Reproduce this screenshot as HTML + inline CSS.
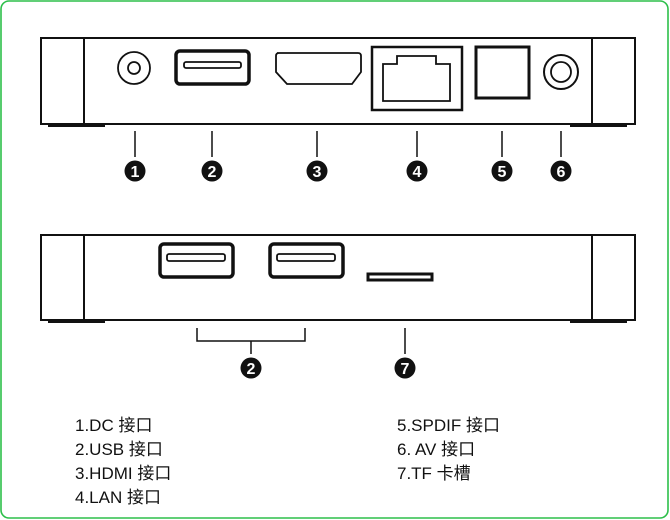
<!DOCTYPE html>
<html><head><meta charset="utf-8"><style>
html,body{margin:0;padding:0;background:#fff;width:670px;height:520px;overflow:hidden}
svg{display:block}
text.n{font-family:"Liberation Sans",sans-serif;font-weight:bold;font-size:16px;fill:#fff;text-anchor:middle}
text.t{font-family:"Liberation Sans","Noto Sans CJK SC",sans-serif;font-size:17px;fill:#111}
</style></head><body>
<svg width="670" height="520" viewBox="0 0 670 520" xmlns="http://www.w3.org/2000/svg">
<rect x="1" y="1" width="667" height="517" rx="8" fill="#fff" stroke="#2dbf4a" stroke-width="1.6"/>
<g fill="none" stroke="#111" stroke-width="2">
<rect x="41" y="38" width="594" height="86"/>
<line x1="84" y1="38" x2="84" y2="124"/>
<line x1="592" y1="38" x2="592" y2="124"/>
<line x1="48" y1="126" x2="105" y2="126"/>
<line x1="570" y1="126" x2="627" y2="126"/>
<circle cx="134" cy="68" r="16" stroke-width="1.8"/>
<circle cx="134" cy="68" r="6" stroke-width="1.8"/>
<rect x="176" y="51" width="73" height="33" rx="4" stroke-width="3.5"/>
<rect x="184" y="62" width="57" height="6" rx="2" stroke-width="1.8"/>
<path d="M277 53 H358 Q361 53 361 56 V72 L352 84 H287 L276 72 V56 Q276 53 279 53 Z" stroke-width="1.8"/>
<rect x="372" y="47" width="90" height="63" stroke-width="2.5"/>
<path d="M383 101 V64 H397 V56 H436 V64 H450 V101 Z" stroke-width="1.8"/>
<rect x="476" y="47" width="53" height="51" stroke-width="3"/>
<circle cx="561" cy="72" r="17" stroke-width="2"/>
<circle cx="561" cy="72" r="10" stroke-width="1.8"/>
<g stroke-width="1.5">
<line x1="135" y1="131" x2="135" y2="157"/>
<line x1="212" y1="131" x2="212" y2="157"/>
<line x1="317" y1="131" x2="317" y2="157"/>
<line x1="417" y1="131" x2="417" y2="157"/>
<line x1="502" y1="131" x2="502" y2="157"/>
<line x1="561" y1="131" x2="561" y2="157"/>
</g>
<rect x="41" y="235" width="594" height="85"/>
<line x1="84" y1="235" x2="84" y2="320"/>
<line x1="592" y1="235" x2="592" y2="320"/>
<line x1="48" y1="322" x2="105" y2="322"/>
<line x1="570" y1="322" x2="627" y2="322"/>
<rect x="160" y="244" width="73" height="33" rx="4" stroke-width="3.5"/>
<rect x="167" y="254" width="58" height="7" rx="2" stroke-width="1.8"/>
<rect x="270" y="244" width="73" height="33" rx="4" stroke-width="3.5"/>
<rect x="277" y="254" width="58" height="7" rx="2" stroke-width="1.8"/>
<rect x="368" y="274" width="64" height="6" stroke-width="3"/>
<path d="M197 328 V341 H305 V328 M251 341 V354" stroke-width="1.5"/>
<line x1="405" y1="328" x2="405" y2="354" stroke-width="1.5"/>
</g>
<g fill="#111">
<circle cx="135" cy="171" r="10.5"/><circle cx="212" cy="171" r="10.5"/><circle cx="317" cy="171" r="10.5"/>
<circle cx="417" cy="171" r="10.5"/><circle cx="502" cy="171" r="10.5"/><circle cx="561" cy="171" r="10.5"/>
<circle cx="251" cy="368" r="10.5"/><circle cx="405" cy="368" r="10.5"/>
</g>
<text class="n" x="135" y="177">1</text><text class="n" x="212" y="177">2</text><text class="n" x="317" y="177">3</text>
<text class="n" x="417" y="177">4</text><text class="n" x="502" y="177">5</text><text class="n" x="561" y="177">6</text>
<text class="n" x="251" y="374">2</text><text class="n" x="405" y="374">7</text>
<text class="t" x="75" y="431">1.DC 接口</text>
<text class="t" x="75" y="455">2.USB 接口</text>
<text class="t" x="75" y="479">3.HDMI 接口</text>
<text class="t" x="75" y="503">4.LAN 接口</text>
<text class="t" x="397" y="431">5.SPDIF 接口</text>
<text class="t" x="397" y="455">6. AV 接口</text>
<text class="t" x="397" y="479">7.TF 卡槽</text>
</svg>
</body></html>
